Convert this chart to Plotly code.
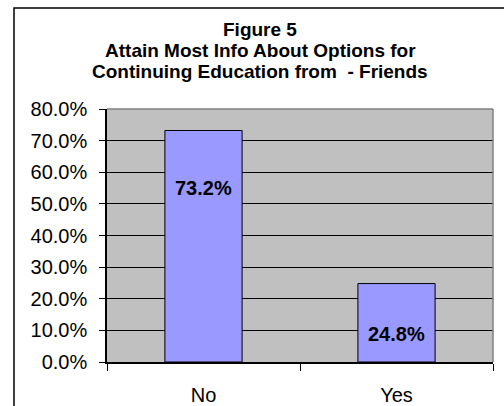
import plotly.graph_objects as go

categories = ["No", "Yes"]
values = [0.732, 0.248]
value_labels = ["73.2%", "24.8%"]
label_offsets_px = [-57, -50]
title_lines = ["Figure 5", "Attain Most Info About Options for", "Continuing Education from  - Friends"]
y_tick_vals = [0.0, 0.1, 0.2, 0.3, 0.4, 0.5, 0.6, 0.7, 0.8]

FONT = "Liberation Sans, Arial, sans-serif"

fig = go.Figure()
fig.add_trace(go.Bar(
    x=categories, y=values, width=0.4,
    marker=dict(color="#9999FF", line=dict(color="black", width=1)),
    hoverinfo="skip",
))

W, H = 504, 406
L, R, T, B = 107, 11, 109, 44
pw, ph = W - L - R, H - T - B

annotations = []
for c, v, lab, off in zip(categories, values, value_labels, label_offsets_px):
    annotations.append(dict(x=c, y=v, xref="x", yref="y", text="<b>%s</b>" % lab,
                            showarrow=False, yshift=off, yanchor="middle",
                            font=dict(family=FONT, size=20, color="black")))

title_y_px = [29, 50, 71]
for line, ypx in zip(title_lines, title_y_px):
    annotations.append(dict(x=(260 - L) / pw, y=(H - B - ypx) / ph, xref="paper", yref="paper",
                            text="<b>%s</b>" % line, showarrow=False, xanchor="center", yanchor="middle",
                            font=dict(family=FONT, size=19, color="black")))

shapes = [
    dict(type="rect", xref="paper", yref="paper",
         x0=(14 - L) / pw, x1=(512 - L) / pw, y0=(H - B - 420) / ph, y1=(H - B - 8) / ph,
         line=dict(color="black", width=1.5), fillcolor="rgba(0,0,0,0)", layer="below"),
    dict(type="line", xref="paper", yref="paper", x0=0, x1=1, y0=1, y1=1,
         line=dict(color="#808080", width=1.5)),
    dict(type="line", xref="paper", yref="paper", x0=1, x1=1, y0=0, y1=1,
         line=dict(color="#808080", width=1.5)),
]

fig.update_layout(
    width=W, height=H,
    margin=dict(l=L, r=R, t=T, b=B, pad=0, autoexpand=False),
    paper_bgcolor="white", plot_bgcolor="#C0C0C0",
    showlegend=False,
    bargap=0.6,
    annotations=annotations,
    shapes=shapes,
    font=dict(family=FONT, size=20, color="black"),
)
fig.update_yaxes(
    range=[0, 0.8], tickvals=y_tick_vals, tickformat=".1%",
    showgrid=True, gridcolor="black", gridwidth=1,
    zeroline=False, showline=True, linecolor="black", linewidth=1.5,
    ticks="outside", ticklen=6, tickcolor="black", tickwidth=1,
    tickfont=dict(family=FONT, size=20, color="black"),
    ticklabelstandoff=8, automargin=False,
)
fig.update_xaxes(
    showgrid=False, showline=True, linecolor="black", linewidth=1.5,
    ticks="outside", tickson="boundaries", ticklen=7, tickcolor="black", tickwidth=1,
    tickfont=dict(family=FONT, size=20, color="black"),
    ticklabelstandoff=14, automargin=False,
)

fig.write_html("out.html")
